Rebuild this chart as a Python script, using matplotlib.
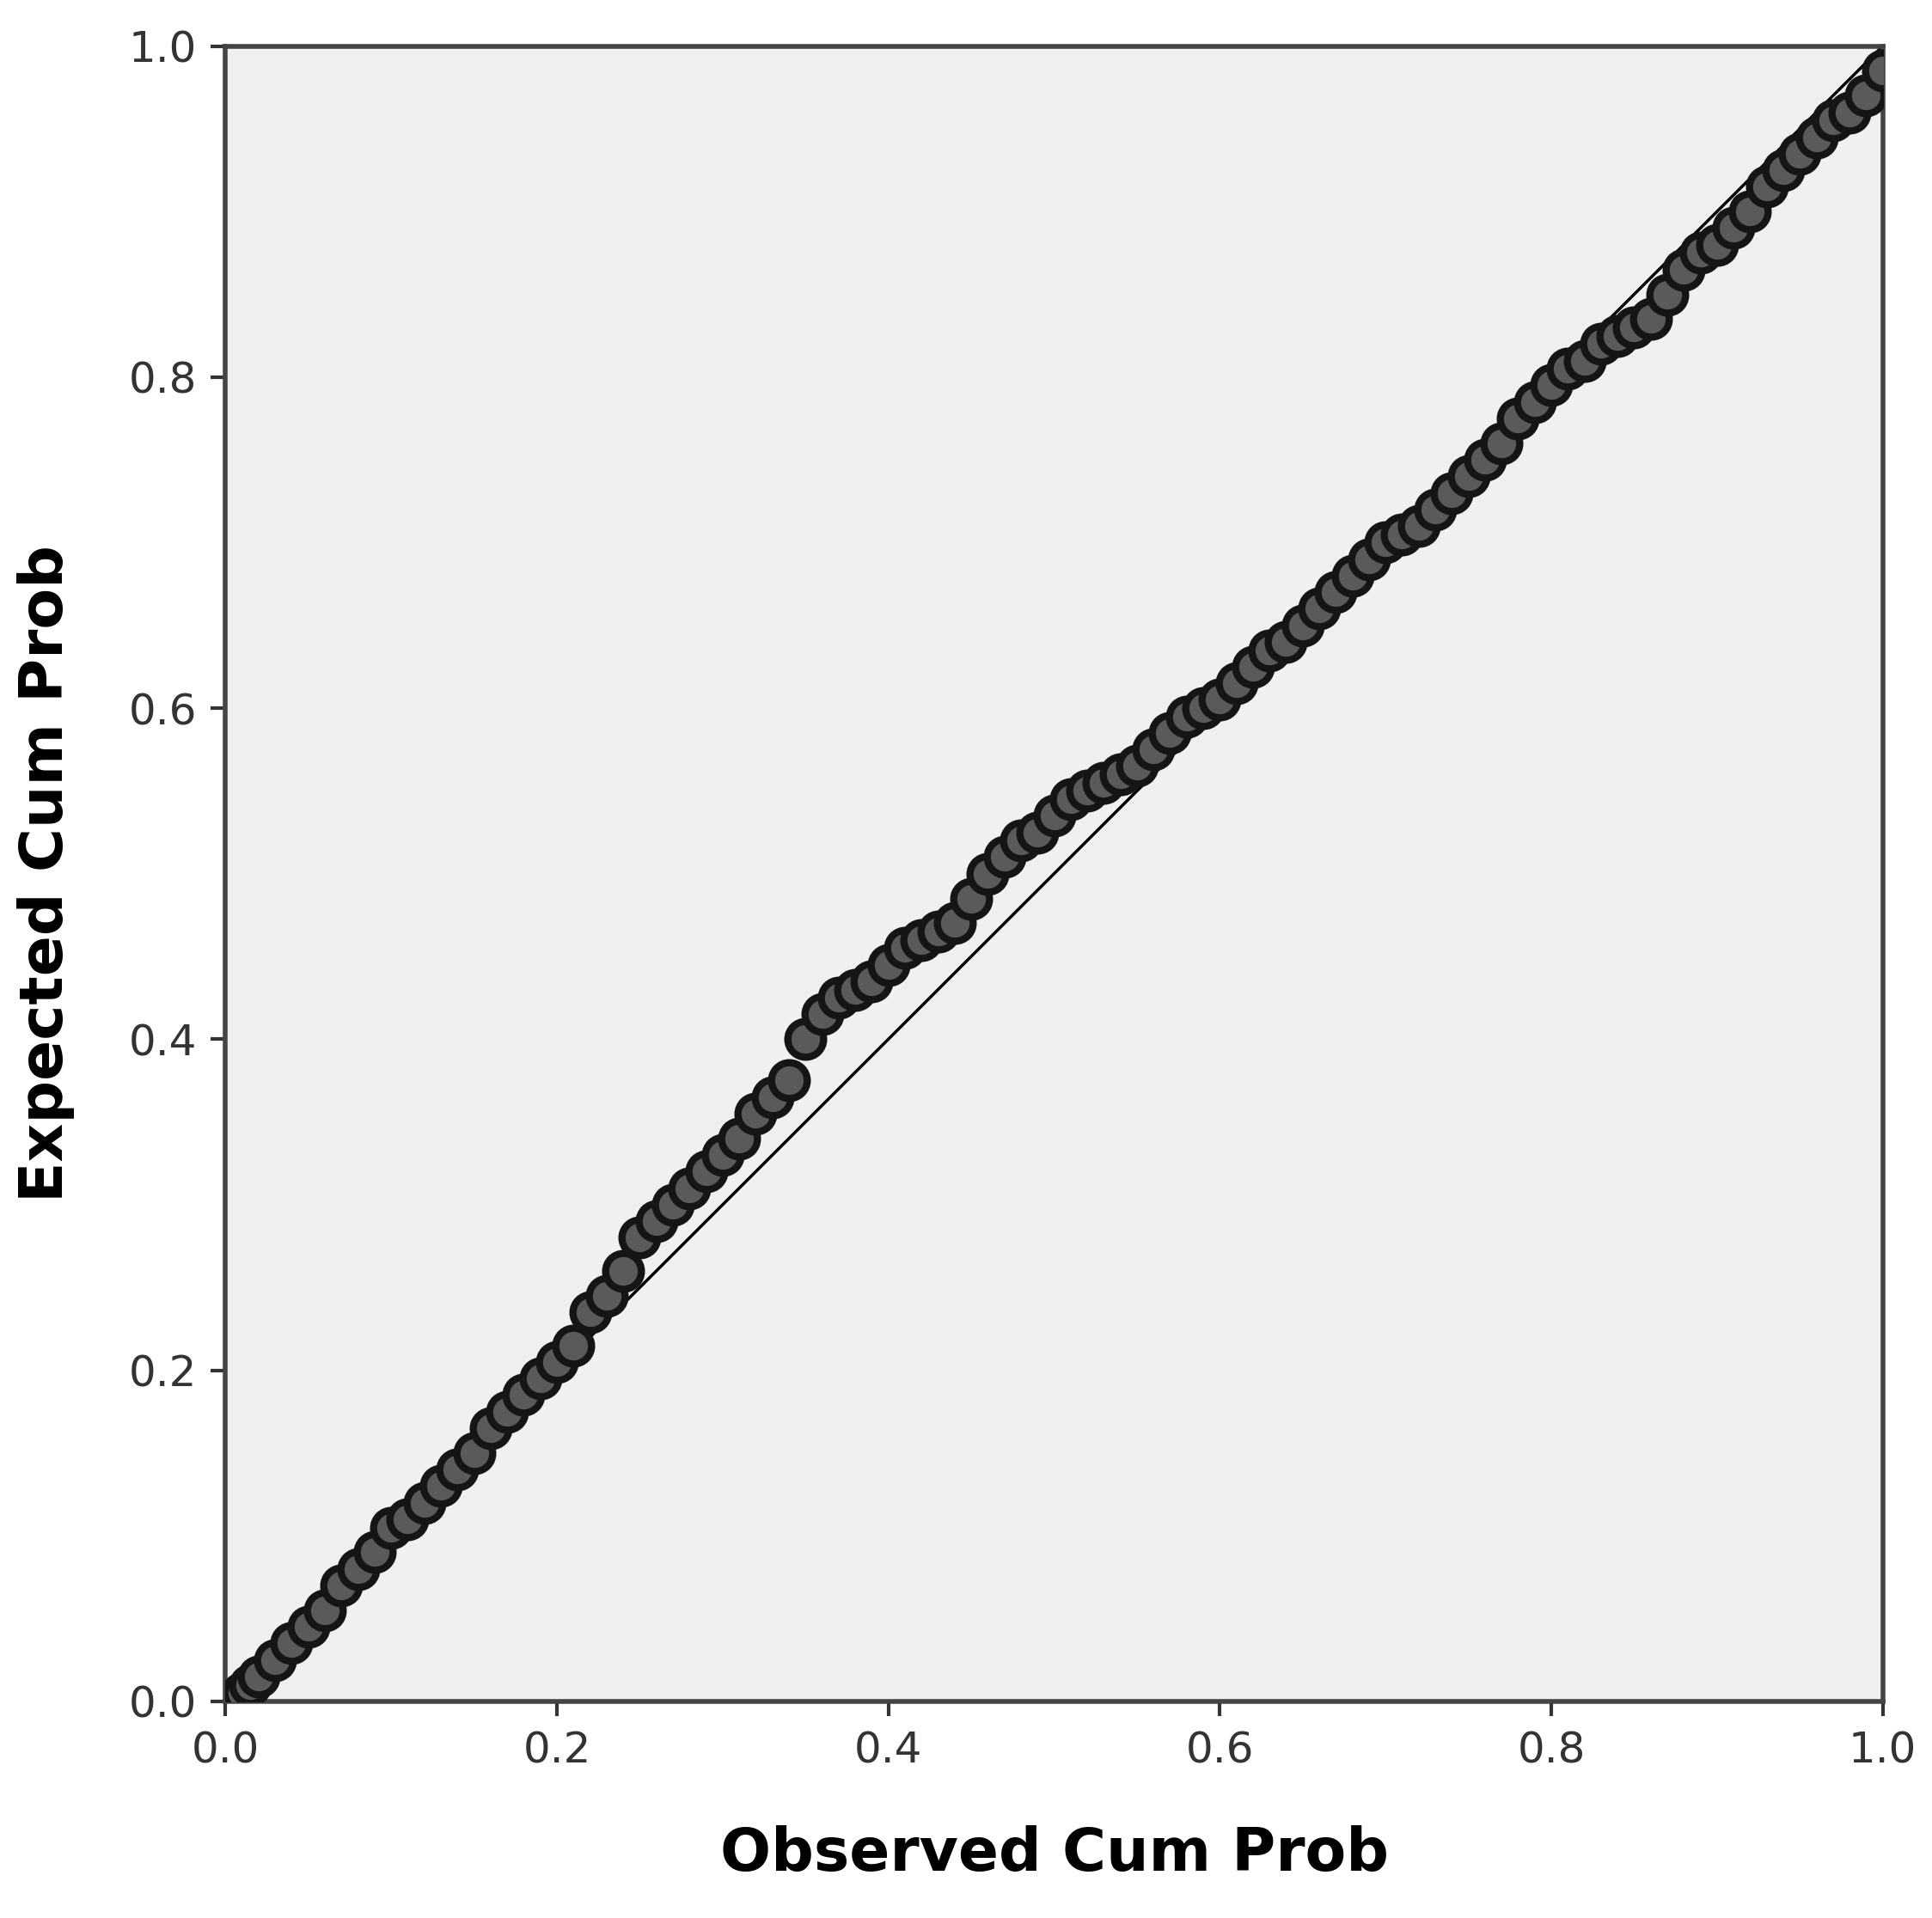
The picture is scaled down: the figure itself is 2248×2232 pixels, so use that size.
import matplotlib
matplotlib.use("Agg")
import matplotlib.pyplot as plt

observed = [0.0,0.01,0.015,0.02,0.03,0.04,0.05,0.06,0.07,0.08,0.09,0.10,0.11,0.12,0.13,0.14,0.15,0.16,0.17,0.18,0.19,0.20,0.21,0.22,0.23,0.24,0.25,0.26,0.27,0.28,0.29,0.30,0.31,0.32,0.33,0.34,0.35,0.36,0.37,0.38,0.39,0.40,0.41,0.42,0.43,0.44,0.45,0.46,0.47,0.48,0.49,0.50,0.51,0.52,0.53,0.54,0.55,0.56,0.57,0.58,0.59,0.60,0.61,0.62,0.63,0.64,0.65,0.66,0.67,0.68,0.69,0.70,0.71,0.72,0.73,0.74,0.75,0.76,0.77,0.78,0.79,0.80,0.81,0.82,0.83,0.84,0.85,0.86,0.87,0.88,0.89,0.90,0.91,0.92,0.93,0.94,0.95,0.96,0.97,0.98,0.99,1.0]
expected = [0.0,0.005,0.01,0.015,0.025,0.035,0.045,0.055,0.07,0.08,0.09,0.105,0.11,0.12,0.13,0.14,0.15,0.165,0.175,0.185,0.195,0.205,0.215,0.235,0.245,0.26,0.28,0.29,0.30,0.31,0.32,0.33,0.34,0.355,0.365,0.375,0.40,0.415,0.425,0.43,0.435,0.445,0.455,0.46,0.465,0.47,0.485,0.50,0.51,0.52,0.525,0.535,0.545,0.55,0.555,0.56,0.565,0.575,0.585,0.595,0.60,0.605,0.615,0.625,0.635,0.64,0.65,0.66,0.67,0.68,0.69,0.70,0.705,0.71,0.72,0.73,0.74,0.75,0.76,0.775,0.785,0.795,0.805,0.81,0.82,0.825,0.83,0.835,0.85,0.865,0.875,0.88,0.89,0.90,0.915,0.925,0.935,0.945,0.955,0.96,0.97,0.985]

fig = plt.figure(figsize=(22.48, 22.32), dpi=100)
ax = fig.add_axes([0.1167, 0.113, 0.8578, 0.863])
ax.set_facecolor("#f0f0f0")
ax.plot([0, 1], [0, 1], color="black", lw=2.5, zorder=2)
ax.plot(observed, expected, "o", ms=30, mfc="#5a5a5a", mec="#151515", mew=6, zorder=3)
ax.set_xlim(0, 1); ax.set_ylim(0, 1)
ticks = [0.0, 0.2, 0.4, 0.6, 0.8, 1.0]
ax.set_xticks(ticks); ax.set_yticks(ticks)
ax.set_xticklabels([f"{t:.1f}" for t in ticks]); ax.set_yticklabels([f"{t:.1f}" for t in ticks])
ax.tick_params(labelsize=36, length=12, width=3, colors="#333333", pad=12)
for s in ax.spines.values():
    s.set_linewidth(4); s.set_color("#444444")
ax.set_xlabel("Observed Cum Prob", fontsize=50, fontweight="bold", labelpad=45)
ax.set_ylabel("Expected Cum Prob", fontsize=50, fontweight="bold", labelpad=45)
fig.savefig("out.png", dpi=100)
